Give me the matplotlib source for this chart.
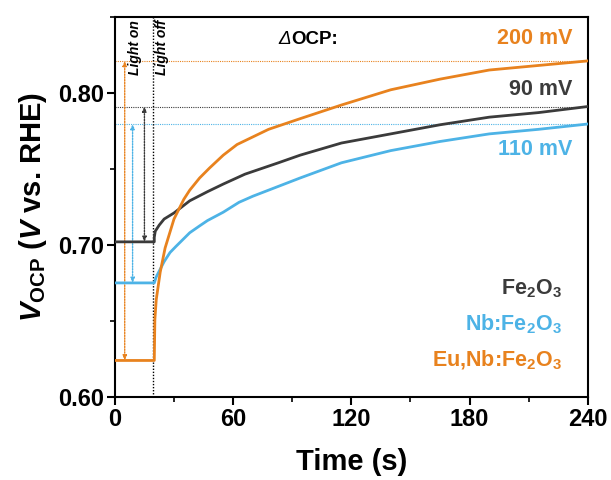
import matplotlib
matplotlib.use("Agg")
import matplotlib.pyplot as plt
from matplotlib.ticker import MultipleLocator

plt.rcParams["font.family"] = ["Liberation Sans", "DejaVu Sans"]
plt.rcParams["font.weight"] = "bold"
plt.rcParams["mathtext.fontset"] = "custom"
plt.rcParams["mathtext.rm"] = "Liberation Sans:bold"
plt.rcParams["mathtext.it"] = "Liberation Sans:bold:italic"
plt.rcParams["mathtext.bf"] = "Liberation Sans:bold"

# ---- data (time in s, OCP in V vs. RHE)
t_fe = [0, 20, 20, 20.5, 22.5, 25, 30, 38, 47, 55, 66, 83, 94, 115, 140, 165,
        190, 215, 240]
v_fe = [0.702, 0.702, 0.705, 0.709, 0.713, 0.717, 0.721, 0.729, 0.735, 0.740,
        0.7465, 0.754, 0.759, 0.767, 0.773, 0.779, 0.784, 0.787, 0.791]

t_nb = [0, 20, 21, 23, 25, 28, 31, 38, 43, 47, 55, 63, 70, 80, 94, 115, 140,
        165, 190, 215, 240]
v_nb = [0.675, 0.675, 0.679, 0.684, 0.689, 0.695, 0.699, 0.708, 0.7125, 0.716,
        0.7215, 0.728, 0.732, 0.737, 0.744, 0.754, 0.762, 0.768, 0.773, 0.776,
        0.7795]

t_eu = [0, 20, 20.3, 21, 23, 25.5, 30, 35, 38, 43, 48, 55, 62, 70, 78, 94,
        115, 140, 165, 190, 215, 240]
v_eu = [0.624, 0.624, 0.651, 0.664, 0.682, 0.698, 0.717, 0.730, 0.736, 0.744,
        0.7505, 0.759, 0.766, 0.771, 0.776, 0.783, 0.792, 0.802, 0.809, 0.815,
        0.818, 0.821]

names = ["Fe$_2$O$_3$", "Nb:Fe$_2$O$_3$", "Eu,Nb:Fe$_2$O$_3$"]
delta_labels = ["90 mV", "110 mV", "200 mV"]
arrow_t = [15, 9, 5]
light_off_t = 19.6

C_FE = "#3b3b3b"
C_NB = "#4db3e6"
C_EU = "#e8821e"
colors = [C_FE, C_NB, C_EU]
series = [(t_fe, v_fe), (t_nb, v_nb), (t_eu, v_eu)]


def main():
    fig = plt.figure(figsize=(6.11, 4.80), dpi=100)
    ax = fig.add_axes([0.188, 0.173, 0.774, 0.792])

    # dotted reference lines (final OCP) and delta arrows
    for (t, v), c, ta in zip(series, colors, arrow_t):
        ax.axhline(v[-1], color=c, lw=0.8, ls=(0, (1, 1)), zorder=1)
        ax.annotate("", xy=(ta, v[-1]), xytext=(ta, v[0]),
                    arrowprops=dict(arrowstyle="<|-|>,head_length=0.28,head_width=0.12",
                                    color=c, lw=1.0, ls=(0, (1, 1)),
                                    shrinkA=0, shrinkB=0), zorder=2)

    ax.axvline(light_off_t, color="black", lw=1.0, ls=(0, (1, 1.2)), zorder=2)

    for (t, v), c in zip(series, colors):
        ax.plot(t, v, color=c, lw=2.0, zorder=3)

    ax.set_xlim(0, 240)
    ax.set_ylim(0.60, 0.85)
    ax.xaxis.set_major_locator(MultipleLocator(60))
    ax.xaxis.set_minor_locator(MultipleLocator(30))
    ax.yaxis.set_major_locator(MultipleLocator(0.10))
    ax.yaxis.set_minor_locator(MultipleLocator(0.05))
    ax.yaxis.set_major_formatter(plt.FormatStrFormatter("%.2f"))
    ax.tick_params(which="major", direction="out", length=6, width=1.5,
                   labelsize=17, pad=2)
    ax.tick_params(which="minor", direction="out", length=3.5, width=1.2)
    for sp in ax.spines.values():
        sp.set_linewidth(1.5)

    ax.set_xlabel("Time (s)", fontsize=21, fontweight="bold", labelpad=12)
    ax.set_ylabel(r"$V_{\rm OCP}$ ($V$ vs. RHE)", fontsize=21, fontweight="bold",
                  labelpad=6)

    # annotations
    ax.text(10.2, 0.848, "Light on", rotation=90, ha="center", va="top",
            fontsize=10, style="italic", fontweight="bold")
    ax.text(23.8, 0.848, "Light off", rotation=90, ha="center", va="top",
            fontsize=10, style="italic", fontweight="bold")
    ax.text(83, 0.835, "\u0394", fontsize=13.5, style="italic",
            fontweight="normal", ha="left", va="center")
    ax.annotate("OCP:", xy=(83, 0.835), xytext=(9.5, 0),
                textcoords="offset points", fontsize=13.5, fontweight="bold",
                ha="left", va="center")

    ax.text(232, 0.836, delta_labels[2], color=C_EU, fontsize=15.5,
            fontweight="bold", ha="right", va="center")
    ax.text(232, 0.8025, delta_labels[0], color=C_FE, fontsize=15.5,
            fontweight="bold", ha="right", va="center")
    ax.text(232, 0.7625, delta_labels[1], color=C_NB, fontsize=15.5,
            fontweight="bold", ha="right", va="center")

    for name, c, y in zip(names, colors, [0.671, 0.648, 0.624]):
        ax.text(227, y, name, color=c, fontsize=15.5, fontweight="bold",
                ha="right", va="center")

    fig.savefig("out.png", dpi=100)
    plt.close(fig)


if __name__ == "__main__":
    main()
